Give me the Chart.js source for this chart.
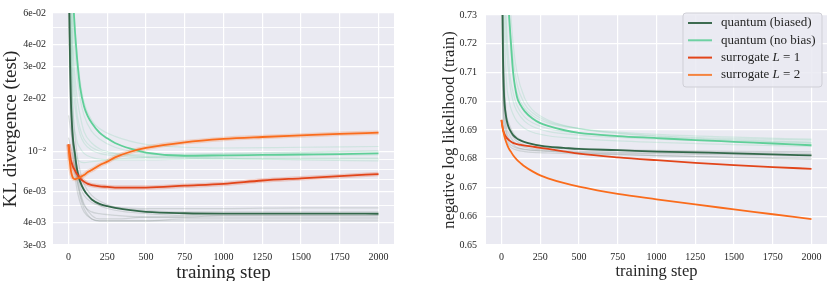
<!DOCTYPE html>
<html><head><meta charset="utf-8">
<script src="https://cdn.jsdelivr.net/npm/chart.js@4.4.1/dist/chart.umd.min.js"></script>
<style>
html,body{margin:0;padding:0;background:#fff;}
#wrap{position:relative;width:831px;height:281px;overflow:hidden;}
canvas{position:absolute;top:0;}
</style></head><body>
<div id="wrap">
<canvas id="c1" width="415" height="281" style="left:0;width:415px;height:281px"></canvas>
<canvas id="c2" width="416" height="281" style="left:415px;width:416px;height:281px"></canvas>
</div>
<script>
// ---------------- data ----------------
const seriesNames = ['quantum (biased)', 'quantum (no bias)', 'surrogate L = 1', 'surrogate L = 2'];
const trainingSteps = [0,5,10,15,20,30,40,50,60,75,100,125,150,200,250,300,400,500,750,1000,1250,1500,1750,2000];
const runSteps = [0,10,25,50,75,100,150,200,300,500,750,1000,1500,2000];
const xTickValues = [0,250,500,750,1000,1250,1500,1750,2000];
const xTickLabels = ['0','250','500','750','1000','1250','1500','1750','2000'];
const klTickValues = [0.003,0.004,0.005,0.006,0.007,0.008,0.009,0.01,0.02,0.03,0.04,0.05,0.06];
const klTickLabels = ['3e-03','4e-03','','6e-03','','','','10\u207B\u00B2','2e-02','3e-02','4e-02','','6e-02'];
const nllTickValues = [0.65,0.66,0.67,0.68,0.69,0.70,0.71,0.72,0.73];
const nllTickLabels = ['0.65','0.66','0.67','0.68','0.69','0.70','0.71','0.72','0.73'];

// KL divergence (test), main curves
const klBiased = [0.15,0.065,0.032,0.02,0.0155,0.0115,0.0100,0.0085,0.0076,0.0068,0.0061,0.0057,0.0054,0.0051,0.00495,0.00485,0.0047,0.0046,0.00452,0.0045,0.0045,0.0045,0.0045,0.00449];
const klNoBias = [0.9,0.5,0.3,0.18,0.12,0.072,0.05,0.038,0.030,0.023,0.0180,0.0158,0.0145,0.0128,0.0119,0.0112,0.0104,0.0099,0.0095,0.00955,0.0096,0.00965,0.0097,0.0098];
const klSurrL1 = [0.0110,0.0102,0.0095,0.0090,0.0087,0.0082,0.0079,0.0076,0.0074,0.0071,0.0068,0.0066,0.0065,0.0064,0.00635,0.0063,0.0063,0.0063,0.00645,0.0066,0.0069,0.0071,0.0073,0.0075];
const klSurrL2 = [0.0110,0.0095,0.0086,0.0079,0.0075,0.0071,0.00703,0.00705,0.0071,0.0072,0.0074,0.0077,0.0079,0.0084,0.0088,0.0093,0.0100,0.0105,0.0113,0.01180,0.0121,0.01235,0.0126,0.0128];
// KL divergence, individual runs (faint)
const klBiasedRun1 = [0.08,0.025,0.011,0.0065,0.0052,0.0046,0.0042,0.0041,0.0041,0.0041,0.0042,0.0042,0.0042,0.0042];
const klBiasedRun2 = [0.12,0.04,0.015,0.0082,0.0064,0.0057,0.0052,0.0050,0.0049,0.0048,0.0048,0.0048,0.00485,0.00485];
const klBiasedRun3 = [0.06,0.02,0.012,0.0088,0.0070,0.0061,0.0054,0.0050,0.0047,0.0045,0.0044,0.0044,0.0044,0.0044];
const klBiasedRun4 = [0.2,0.06,0.02,0.0105,0.0078,0.0066,0.0057,0.0053,0.0049,0.0047,0.0046,0.0046,0.0046,0.0046];
const klBiasedRun5 = [0.016,0.014,0.0115,0.0078,0.0060,0.0051,0.0044,0.0042,0.0042,0.0043,0.0043,0.0044,0.0044,0.0044];
const klBiasedRun6 = [0.1,0.03,0.013,0.0075,0.0058,0.0050,0.0046,0.0045,0.0044,0.0043,0.0043,0.0043,0.0043,0.0043];
const klBiasedRun7 = [0.012,0.011,0.0098,0.0072,0.0056,0.0048,0.0042,0.0041,0.0041,0.0041,0.0041,0.0041,0.0041,0.0041];
const klNoBiasRun1 = [0.5,0.2,0.05,0.022,0.016,0.013,0.0112,0.0104,0.0098,0.0094,0.0093,0.0094,0.0095,0.0096];
const klNoBiasRun2 = [0.5,0.3,0.1,0.04,0.025,0.019,0.0150,0.0135,0.0122,0.0110,0.0106,0.0105,0.0106,0.0107];
const klNoBiasRun3 = [0.3,0.08,0.02,0.012,0.0105,0.0098,0.0093,0.0091,0.0090,0.0090,0.0091,0.0092,0.0092,0.0092];
const klNoBiasRun4 = [0.4,0.15,0.04,0.018,0.0135,0.0118,0.0106,0.0101,0.0097,0.0096,0.0097,0.0098,0.0100,0.0101];
const klNoBiasRun5 = [0.6,0.25,0.07,0.03,0.020,0.016,0.0130,0.0118,0.0106,0.0098,0.0094,0.0092,0.0090,0.0089];
const klNoBiasRun6 = [0.25,0.06,0.015,0.0095,0.0088,0.0087,0.0088,0.0089,0.0091,0.0093,0.0095,0.0097,0.0099,0.0101];
const klNoBiasRun7 = [0.4,0.12,0.03,0.016,0.0125,0.0112,0.0102,0.0098,0.0095,0.0093,0.0092,0.0091,0.0091,0.0091];

// Negative log likelihood (train), main curves
const nllBiased = [0.80,0.74,0.715,0.704,0.699,0.6945,0.692,0.6905,0.6895,0.6882,0.6870,0.6863,0.6858,0.6851,0.6846,0.6842,0.6838,0.6834,0.6830,0.6825,0.6822,0.6819,0.6815,0.6812];
const nllNoBias = [0.90,0.86,0.83,0.80,0.78,0.755,0.739,0.729,0.721,0.710,0.7015,0.6985,0.6965,0.6940,0.6924,0.6914,0.6900,0.6890,0.6879,0.6872,0.6865,0.6859,0.6853,0.6847];
const nllSurrL1 = [0.6935,0.6915,0.6900,0.6892,0.6885,0.6876,0.6869,0.6864,0.6860,0.6855,0.6851,0.6848,0.6846,0.6842,0.6838,0.6834,0.6826,0.6818,0.6805,0.6795,0.6786,0.6778,0.6771,0.6765];
const nllSurrL2 = [0.6935,0.6915,0.6900,0.6887,0.6876,0.6858,0.6844,0.6833,0.6825,0.6812,0.6796,0.6784,0.6773,0.6756,0.6742,0.6732,0.6716,0.6703,0.6678,0.6659,0.6641,0.6624,0.6607,0.6590];
// NLL, individual runs (faint)
const nllBiasedRun1 = [0.76,0.700,0.690,0.6855,0.6843,0.6837,0.6832,0.6829,0.6826,0.6822,0.6819,0.6817,0.6813,0.6810];
const nllBiasedRun2 = [0.78,0.720,0.697,0.690,0.6875,0.6860,0.6848,0.6843,0.6838,0.6834,0.6831,0.6829,0.6826,0.6824];
const nllBiasedRun3 = [0.74,0.695,0.688,0.6845,0.6835,0.6830,0.6825,0.6822,0.6820,0.6817,0.6814,0.6811,0.6806,0.6802];
const nllBiasedRun4 = [0.80,0.730,0.700,0.692,0.6890,0.6875,0.6858,0.6850,0.6842,0.6836,0.6831,0.6827,0.6822,0.6818];
const nllBiasedRun5 = [0.75,0.705,0.692,0.687,0.6850,0.6840,0.6833,0.6830,0.6826,0.6821,0.6815,0.6811,0.6804,0.6798];
const nllBiasedRun6 = [0.77,0.712,0.694,0.6885,0.6862,0.6850,0.6840,0.6835,0.6830,0.6826,0.6822,0.6820,0.6816,0.6813];
const nllNoBiasRun1 = [0.90,0.82,0.76,0.725,0.710,0.703,0.6975,0.6950,0.6925,0.6905,0.6893,0.6885,0.6875,0.6868];
const nllNoBiasRun2 = [0.88,0.80,0.74,0.712,0.703,0.6985,0.6945,0.6925,0.6905,0.6890,0.6880,0.6873,0.6863,0.6856];
const nllNoBiasRun3 = [0.92,0.85,0.78,0.740,0.720,0.710,0.7010,0.6970,0.6935,0.6905,0.6888,0.6878,0.6866,0.6858];
const nllNoBiasRun4 = [0.85,0.76,0.715,0.700,0.6955,0.6930,0.6905,0.6892,0.6880,0.6870,0.6862,0.6857,0.6849,0.6843];
const nllNoBiasRun5 = [0.90,0.83,0.77,0.730,0.715,0.706,0.6990,0.6960,0.6930,0.6905,0.6890,0.6880,0.6870,0.6865];
const nllNoBiasRun6 = [0.87,0.78,0.73,0.708,0.700,0.6965,0.6930,0.6912,0.6895,0.6882,0.6874,0.6868,0.6860,0.6853];

// ---------------- styling ----------------
const FONT = "'Liberation Serif','DejaVu Serif',serif";
const TXT = '#262626';
const colBiased = '#33684a';
const colNoBias = '#5fcf98';
const colL1 = '#e2451a';
const colL2 = '#fa6c1c';
const faintBiased = 'rgba(95,115,105,0.2)';
const faintNoBias = 'rgba(100,205,155,0.2)';

function pts(steps, vals){ return steps.map((s,i)=>({x:s, y:vals[i]})); }
function line(label, steps, vals, color, width, order){
  return {label, data: pts(steps, vals), borderColor: color, backgroundColor: color,
    borderWidth: width, pointRadius: 0, pointHoverRadius: 0, fill: false,
    cubicInterpolationMode: 'monotone', order};
}

const bgPlugin = {
  id: 'bg',
  beforeDraw(chart){
    const {ctx, chartArea: a} = chart;
    ctx.save(); ctx.fillStyle = '#EAEAF2';
    ctx.fillRect(a.left, a.top, a.right - a.left, a.bottom - a.top);
    ctx.restore();
  }
};

function xScale(titleSize, titleLH){
  return {
    type: 'linear', min: -100, max: 2100, bounds: 'data',
    afterBuildTicks: s => { s.ticks = xTickValues.map(v => ({value: v})); },
    afterFit: s => { s.height = 36; },
    grid: {color: '#ffffff', lineWidth: 1.2, drawTicks: false},
    border: {display: false},
    ticks: {padding: 6, color: TXT, font: {family: FONT, size: 10}, maxRotation: 0, autoSkip: false,
      callback: (v, i) => xTickLabels[i]},
    title: {display: true, text: 'training step', color: TXT, padding: 0,
      font: {family: FONT, size: titleSize, lineHeight: titleLH}}
  };
}

const commonOpts = {
  responsive: false, animation: false, devicePixelRatio: 1,
  plugins: {legend: {display: false}, tooltip: {enabled: false}},
  events: []
};

// ---------------- left chart: KL divergence ----------------
const leftSets = [];
[klBiasedRun1,klBiasedRun2,klBiasedRun3,klBiasedRun4,klBiasedRun5,klBiasedRun6,klBiasedRun7].forEach((r,i)=>
  leftSets.push(line('biased run '+(i+1), runSteps, r, faintBiased, 1.2, 20)));
[klNoBiasRun1,klNoBiasRun2,klNoBiasRun3,klNoBiasRun4,klNoBiasRun5,klNoBiasRun6,klNoBiasRun7].forEach((r,i)=>
  leftSets.push(line('no bias run '+(i+1), runSteps, r, faintNoBias, 1.2, 19)));
leftSets.push(line('halo L1', trainingSteps, klSurrL1, 'rgba(226,69,26,0.22)', 4.5, 10));
leftSets.push(line('halo L2', trainingSteps, klSurrL2, 'rgba(250,108,28,0.22)', 4.5, 10));
leftSets.push(line(seriesNames[0], trainingSteps, klBiased, colBiased, 1.8, 4));
leftSets.push(line(seriesNames[1], trainingSteps, klNoBias, colNoBias, 1.8, 3));
leftSets.push(line(seriesNames[2], trainingSteps, klSurrL1, colL1, 1.8, 2));
leftSets.push(line(seriesNames[3], trainingSteps, klSurrL2, colL2, 1.8, 1));

new Chart(document.getElementById('c1'), {
  type: 'line',
  data: {datasets: leftSets},
  plugins: [bgPlugin],
  options: Object.assign({}, commonOpts, {
    layout: {padding: {top: 7, right: 21, bottom: 0, left: 0}},
    scales: {
      x: xScale(19, 0.84),
      y: {
        type: 'logarithmic', min: 0.003, max: 0.06, bounds: 'data',
        afterBuildTicks: s => { s.ticks = klTickValues.map(v => ({value: v})); },
        afterFit: s => { s.width = 53; },
        grid: {color: '#ffffff', drawTicks: false,
          lineWidth: c => (klTickLabels[c.index] === '' ? 0.9 : 1.2)},
        border: {display: false},
        ticks: {padding: 7, color: TXT, font: {family: FONT, size: 10}, autoSkip: false,
          callback: (v, i) => klTickLabels[i]},
        title: {display: true, text: 'KL divergence (test)', color: TXT, padding: {top: 0, bottom: 0},
          font: {family: FONT, size: 19, lineHeight: 1.2}}
      }
    }
  })
});

// ---------------- right chart: NLL ----------------
const rightSets = [];
[nllBiasedRun1,nllBiasedRun2,nllBiasedRun3,nllBiasedRun4,nllBiasedRun5,nllBiasedRun6].forEach((r,i)=>
  rightSets.push(line('biased run '+(i+1), runSteps, r, faintBiased, 1.2, 20)));
[nllNoBiasRun1,nllNoBiasRun2,nllNoBiasRun3,nllNoBiasRun4,nllNoBiasRun5,nllNoBiasRun6].forEach((r,i)=>
  rightSets.push(line('no bias run '+(i+1), runSteps, r, faintNoBias, 1.2, 19)));
rightSets.push(line(seriesNames[0], trainingSteps, nllBiased, colBiased, 1.8, 4));
rightSets.push(line(seriesNames[1], trainingSteps, nllNoBias, colNoBias, 1.8, 3));
rightSets.push(line(seriesNames[2], trainingSteps, nllSurrL1, colL1, 1.8, 2));
rightSets.push(line(seriesNames[3], trainingSteps, nllSurrL2, colL2, 1.8, 1));

const legendColors = ['#3d6b50', '#6fd1a3', '#e2451a', '#f5843f'];
const legendPlugin = {
  id: 'mplLegend',
  afterDatasetsDraw(chart){
    const ctx = chart.ctx;
    const x0 = 268, y0 = 13, w = 139, h = 74, r = 3;
    ctx.save();
    ctx.beginPath();
    ctx.moveTo(x0 + r, y0); ctx.lineTo(x0 + w - r, y0); ctx.quadraticCurveTo(x0 + w, y0, x0 + w, y0 + r);
    ctx.lineTo(x0 + w, y0 + h - r); ctx.quadraticCurveTo(x0 + w, y0 + h, x0 + w - r, y0 + h);
    ctx.lineTo(x0 + r, y0 + h); ctx.quadraticCurveTo(x0, y0 + h, x0, y0 + h - r);
    ctx.lineTo(x0, y0 + r); ctx.quadraticCurveTo(x0, y0, x0 + r, y0); ctx.closePath();
    ctx.fillStyle = 'rgba(234,234,242,0.85)'; ctx.fill();
    ctx.strokeStyle = '#cfcfd6'; ctx.lineWidth = 1; ctx.stroke();
    seriesNames.forEach((name, i) => {
      const y = y0 + 10 + i * 17.3;
      ctx.beginPath(); ctx.moveTo(273, y); ctx.lineTo(297, y);
      ctx.strokeStyle = legendColors[i]; ctx.lineWidth = 2; ctx.stroke();
      ctx.fillStyle = TXT; ctx.textBaseline = 'middle'; ctx.textAlign = 'left';
      let x = 306;
      name.split(/(\bL\b)/).forEach(part => {
        if (!part) return;
        ctx.font = (part === 'L' ? 'italic ' : '') + '13px ' + FONT;
        ctx.fillText(part, x, y);
        x += ctx.measureText(part).width;
      });
    });
    ctx.restore();
  }
};

new Chart(document.getElementById('c2'), {
  type: 'line',
  data: {datasets: rightSets},
  plugins: [bgPlugin, legendPlugin],
  options: Object.assign({}, commonOpts, {
    layout: {padding: {top: 7, right: 4, bottom: 0, left: 0}},
    scales: {
      x: xScale(16.5, 1.1),
      y: {
        type: 'linear', min: 0.65, max: 0.73, bounds: 'data',
        afterBuildTicks: s => { s.ticks = nllTickValues.map(v => ({value: v})); },
        afterFit: s => { s.width = 71; },
        grid: {color: '#ffffff', lineWidth: 1.2, drawTicks: false},
        border: {display: false},
        ticks: {padding: 9, color: TXT, font: {family: FONT, size: 10}, autoSkip: false,
          callback: (v, i) => nllTickLabels[i]},
        title: {display: true, text: 'negative log likelihood (train)', color: TXT, padding: {top: 25, bottom: 0},
          font: {family: FONT, size: 16.5, lineHeight: 1.2}}
      }
    }
  })
});
</script>
</body></html>
